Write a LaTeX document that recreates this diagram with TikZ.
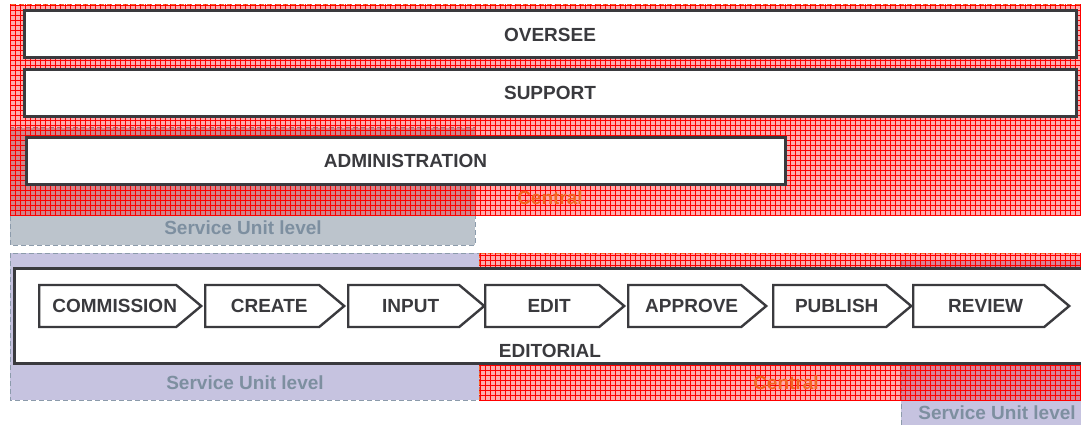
\documentclass[tikz,border=0pt]{standalone}
\usepackage{fontspec}
\setmainfont{Liberation Sans}
\usetikzlibrary{shapes.symbols,patterns.meta}

\definecolor{ink}{RGB}{58,58,62}
\definecolor{unitink}{RGB}{125,143,160}
\definecolor{centralink}{RGB}{242,101,34}
\definecolor{unitgray}{RGB}{188,196,204}
\definecolor{unitpurple}{RGB}{198,195,224}
\definecolor{unitdash}{RGB}{140,155,171}
\definecolor{centraldash}{RGB}{244,110,50}

\tikzdeclarepattern{
  name=redgrid,
  type=uncolored,
  bounding box={(-.5pt,-.5pt) and (5.5pt,5.5pt)},
  tile size={(5pt,5pt)},
  code={\draw[line width=.45pt] (0pt,0pt) -- (0pt,5pt) (0pt,0pt) -- (5pt,0pt);}
}

\tikzset{
  bigfont/.style={font=\bfseries\fontsize{19}{21}\selectfont},
  unit/.style={draw=unitdash, dash pattern=on 5pt off 3pt, line width=1pt},
  central/.style={fill=red, fill opacity=.33, draw=centraldash, draw opacity=1,
    dash pattern=on 5pt off 3pt, line width=1pt,
    postaction={pattern=redgrid, pattern color=red, fill opacity=.45}},
  level/.style={rectangle, draw=ink, line width=3pt, fill=white, text=ink, bigfont,
    minimum height=47pt, inner sep=0pt},
  stage/.style={signal, signal to=east, signal pointer angle=80, draw=ink,
    line width=2.4pt, fill=white, minimum height=42pt, inner sep=0pt, anchor=west},
  stagetext/.style={text=ink, bigfont, xshift=7pt},
  unitlabel/.style={text=unitink, bigfont},
  centrallabel/.style={text=centralink, bigfont}
}

\begin{document}
\begin{tikzpicture}[x=1pt,y=-1pt]
  \clip (0,0) rectangle (1081,425);

  % upper zones
  \fill[unitgray] (10,128) rectangle (475,245);
  \draw[unit] (10,128) rectangle (475,245);
  \path[central] (10,5) rectangle (1095,215);

  \node[level, minimum width=1052pt] (oversee) at (550,34.5) {OVERSEE};
  \node[level, minimum width=1052pt] (support) at (550,93) {SUPPORT};
  \node[level, minimum width=759pt] (admin) at (405.5,161) {ADMINISTRATION};

  \node[unitlabel] (unittop) at (243,228) {Service Unit level};
  \node[centrallabel] (centraltop) at (550,198) {Central};

  % lower zones
  \fill[unitpurple] (10,253) rectangle (479,400);
  \draw[unit] (10,253) rectangle (479,400);
  \fill[unitpurple] (901,260) rectangle (1095,440);
  \draw[unit] (901,260) rectangle (1095,440);
  \path[central] (479,253) rectangle (1095,400);

  \node[level, minimum width=1072pt, minimum height=95pt] (editorial) at (550,315.5) {};
  \node[text=ink, bigfont, anchor=base] (editlabel) at (550,357) {EDITORIAL};

  \node[stage, minimum width=162pt, label={[stagetext]center:COMMISSION}] (commission) at (38,306) {};
  \node[stage, minimum width=139pt, label={[stagetext]center:CREATE}] (create) at (204,306) {};
  \node[stage, minimum width=136pt, label={[stagetext]center:INPUT}] (input) at (347,306) {};
  \node[stage, minimum width=139pt, label={[stagetext]center:EDIT}] (edit) at (484,306) {};
  \node[stage, minimum width=138pt, label={[stagetext]center:APPROVE}] (approve) at (627,306) {};
  \node[stage, minimum width=138pt, label={[stagetext]center:PUBLISH}] (publish) at (772,306) {};
  \node[stage, minimum width=156pt, label={[stagetext]center:REVIEW}] (review) at (912,306) {};

  \node[unitlabel] (unitleft) at (245,383) {Service Unit level};
  \node[centrallabel] (centralbottom) at (786,383) {Central};
  \node[unitlabel] (unitright) at (997,413) {Service Unit level};
\end{tikzpicture}
\end{document}
